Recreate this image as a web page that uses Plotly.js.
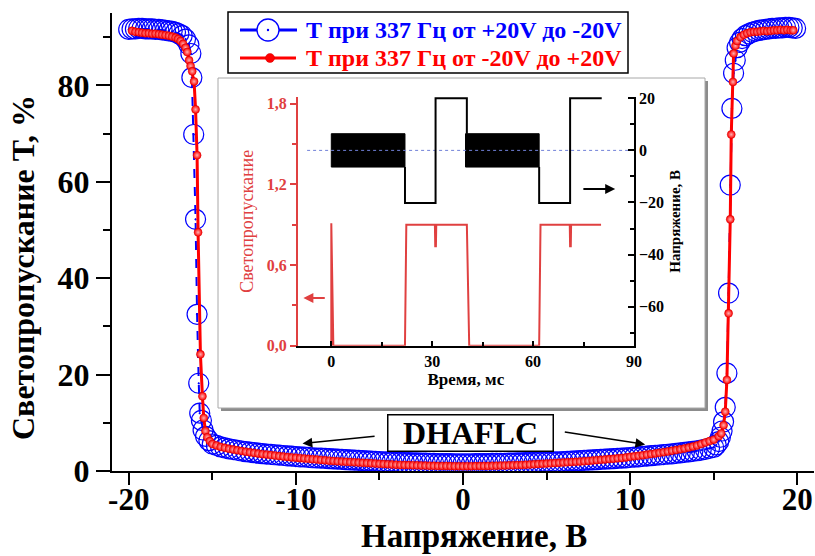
<!DOCTYPE html>
<html><head><meta charset="utf-8">
<script src="https://cdn.plot.ly/plotly-3.0.1.min.js"></script>
<style>body{margin:0;background:#fff}#chart{width:815px;height:556px}</style>
</head><body><div id="chart"></div>
<script>
// ---------- main chart data: T(%) vs voltage (V) ----------
// Blue sweep: from +20 V to -20 V
const blueV = [
  19.9, 19.7, 19.5, 19.3, 19.1, 18.9, 18.7, 18.5, 18.3, 18.1,
  17.9, 17.7, 17.5, 17.3, 17.1, 16.9, 16.7, 16.55, 16.4, 16.29,
  16.19, 16.09, 15.99, 15.89, 15.79, 15.69, 15.59, 15.5, 15.4, 15.3,
  15.15, 15.0,
  14.75, 14.5, 14.25, 14.0, 13.75, 13.5, 13.25, 13.0, 12.75, 12.5,
  12.25, 12.0, 11.75, 11.5, 11.25, 11.0, 10.75, 10.5, 10.25, 10.0,
  9.75, 9.5, 9.25, 9.0, 8.75, 8.5, 8.25, 8.0, 7.75, 7.5,
  7.25, 7.0, 6.75, 6.5, 6.25, 6.0, 5.75, 5.5, 5.25, 5.0,
  4.75, 4.5, 4.25, 4.0, 3.75, 3.5, 3.25, 3.0, 2.75, 2.5,
  2.25, 2.0, 1.75, 1.5, 1.25, 1.0, 0.75, 0.5, 0.25, 0.0,
  -0.25, -0.5, -0.75, -1.0, -1.25, -1.5, -1.75, -2.0, -2.25, -2.5,
  -2.75, -3.0, -3.25, -3.5, -3.75, -4.0, -4.25, -4.5, -4.75, -5.0,
  -5.25, -5.5, -5.75, -6.0, -6.25, -6.5, -6.75, -7.0, -7.25, -7.5,
  -7.75, -8.0, -8.25, -8.5, -8.75, -9.0, -9.25, -9.5, -9.75, -10.0,
  -10.25, -10.5, -10.75, -11.0, -11.25, -11.5, -11.75, -12.0, -12.25, -12.5,
  -12.75, -13.0, -13.25, -13.5, -13.75, -14.0, -14.25, -14.5, -14.75, -15.0,
  -15.2, -15.4, -15.55, -15.65, -15.75, -15.81, -15.91, -16.0, -16.11, -16.22,
  -16.28, -16.4, -16.6, -16.8, -17.0, -17.2, -17.4, -17.6, -17.8, -18.0,
  -18.2, -18.4, -18.6, -18.8, -19.0, -19.2, -19.4, -19.6, -19.8, -20.0];
const blueT = [
  91.8, 91.9, 92.0, 92.0, 91.9, 91.9, 91.8, 91.8, 91.7, 91.6,
  91.5, 91.4, 91.2, 91.0, 90.7, 90.3, 89.7, 88.9, 87.8, 85.2,
  82.5, 75.2, 59.3, 36.9, 20.3, 13.2, 10.2, 8.3, 7.0, 6.1,
  5.4, 4.9,
  4.7, 4.5, 4.35, 4.2, 4.05, 3.95, 3.85, 3.75, 3.65, 3.55,
  3.47, 3.4, 3.32, 3.25, 3.17, 3.1, 3.02, 2.95, 2.87, 2.8,
  2.72, 2.65, 2.6, 2.55, 2.5, 2.45, 2.4, 2.35, 2.3, 2.25,
  2.2, 2.15, 2.1, 2.05, 2.0, 1.95, 1.92, 1.9, 1.87, 1.85,
  1.82, 1.8, 1.77, 1.75, 1.72, 1.7, 1.67, 1.65, 1.62, 1.6,
  1.6, 1.6, 1.57, 1.55, 1.55, 1.55, 1.52, 1.5, 1.5, 1.5,
  1.5, 1.5, 1.52, 1.55, 1.55, 1.55, 1.57, 1.6, 1.62, 1.65,
  1.67, 1.7, 1.72, 1.75, 1.77, 1.8, 1.85, 1.9, 1.92, 1.95,
  2.0, 2.05, 2.1, 2.15, 2.2, 2.25, 2.3, 2.35, 2.4, 2.45,
  2.5, 2.55, 2.6, 2.65, 2.7, 2.75, 2.82, 2.9, 2.95, 3.0,
  3.07, 3.15, 3.22, 3.3, 3.37, 3.45, 3.52, 3.6, 3.7, 3.8,
  3.9, 4.0, 4.15, 4.3, 4.45, 4.6, 4.8, 5.0, 5.3, 5.6,
  6.3, 7.2, 8.5, 10.5, 12.0, 18.2, 32.5, 52.2, 69.8, 81.6,
  86.6, 88.4, 89.6, 90.3, 90.7, 91.0, 91.2, 91.3, 91.4, 91.5,
  91.6, 91.6, 91.7, 91.7, 91.7, 91.8, 91.8, 91.7, 91.7, 91.6];

// Red sweep: from -20 V to +20 V
const redV = [
  -19.8, -19.6, -19.4, -19.2, -19.0, -18.8, -18.6, -18.4, -18.2, -18.0,
  -17.8, -17.6, -17.4, -17.2, -17.05, -16.9, -16.75, -16.6, -16.5, -16.39,
  -16.3, -16.2, -16.09, -16.0, -15.91, -15.85, -15.71, -15.59, -15.51, -15.41,
  -15.3, -15.15, -15.0,
  -14.75, -14.5, -14.25, -14.0, -13.75, -13.5, -13.25, -13.0, -12.75, -12.5,
  -12.25, -12.0, -11.75, -11.5, -11.25, -11.0, -10.75, -10.5, -10.25, -10.0,
  -9.75, -9.5, -9.25, -9.0, -8.75, -8.5, -8.25, -8.0, -7.75, -7.5,
  -7.25, -7.0, -6.75, -6.5, -6.25, -6.0, -5.75, -5.5, -5.25, -5.0,
  -4.75, -4.5, -4.25, -4.0, -3.75, -3.5, -3.25, -3.0, -2.75, -2.5,
  -2.25, -2.0, -1.75, -1.5, -1.25, -1.0, -0.75, -0.5, -0.25, 0.0,
  0.25, 0.5, 0.75, 1.0, 1.25, 1.5, 1.75, 2.0, 2.25, 2.5,
  2.75, 3.0, 3.25, 3.5, 3.75, 4.0, 4.25, 4.5, 4.75, 5.0,
  5.25, 5.5, 5.75, 6.0, 6.25, 6.5, 6.75, 7.0, 7.25, 7.5,
  7.75, 8.0, 8.25, 8.5, 8.75, 9.0, 9.25, 9.5, 9.75, 10.0,
  10.25, 10.5, 10.75, 11.0, 11.25, 11.5, 11.75, 12.0, 12.25, 12.5,
  12.75, 13.0, 13.25, 13.5, 13.75, 14.0, 14.25, 14.5, 14.75,
  15.0, 15.3, 15.45, 15.59, 15.69, 15.79, 15.89, 15.99, 16.05, 16.15,
  16.19, 16.3, 16.4, 16.6, 16.8, 17.0, 17.2, 17.4, 17.6, 17.8,
  18.0, 18.2, 18.4, 18.6, 18.8, 19.0, 19.2, 19.4, 19.6, 19.76];
const redT = [
  91.3, 91.1, 91.0, 90.9, 90.8, 90.8, 90.7, 90.7, 90.6, 90.5,
  90.4, 90.3, 90.1, 89.9, 89.6, 89.2, 88.6, 87.8, 86.9, 85.2,
  84.0, 82.9, 80.8, 75.0, 65.5, 49.5, 24.2, 15.5, 11.0, 8.3,
  7.0, 6.2, 5.6,
  5.3, 5.0, 4.8, 4.6, 4.45, 4.3, 4.15, 4.0, 3.87, 3.75,
  3.62, 3.5, 3.4, 3.3, 3.2, 3.1, 3.0, 2.9, 2.82, 2.75,
  2.67, 2.6, 2.52, 2.45, 2.37, 2.3, 2.22, 2.15, 2.07, 2.0,
  1.95, 1.9, 1.85, 1.8, 1.75, 1.7, 1.65, 1.6, 1.55, 1.5,
  1.45, 1.4, 1.35, 1.3, 1.27, 1.25, 1.22, 1.2, 1.17, 1.15,
  1.12, 1.1, 1.07, 1.05, 1.05, 1.05, 1.02, 1.0, 1.0, 1.0,
  1.0, 1.0, 1.02, 1.05, 1.05, 1.05, 1.07, 1.1, 1.12, 1.15,
  1.17, 1.2, 1.22, 1.25, 1.3, 1.35, 1.4, 1.45, 1.5, 1.55,
  1.6, 1.65, 1.7, 1.75, 1.8, 1.85, 1.9, 1.95, 2.02, 2.1,
  2.17, 2.25, 2.32, 2.4, 2.47, 2.55, 2.62, 2.7, 2.82, 2.95,
  3.05, 3.15, 3.27, 3.4, 3.52, 3.65, 3.77, 3.9, 4.05, 4.2,
  4.35, 4.5, 4.67, 4.85, 5.07, 5.3, 5.6, 5.9, 6.2,
  6.5, 7.2, 7.8, 9.5, 12.3, 18.9, 32.7, 52.2, 69.8, 80.7,
  86.6, 88.2, 89.2, 90.0, 90.5, 90.8, 91.0, 91.1, 91.1, 91.2,
  91.3, 91.2, 91.3, 91.4, 91.4, 91.5, 91.4, 91.5, 91.4, 91.4];

if (blueV.length !== blueT.length) throw new Error('blue length ' + blueV.length + ' vs ' + blueT.length);
if (redV.length !== redT.length) throw new Error('red length ' + redV.length + ' vs ' + redT.length);

const blueName = 'Т при 337 Гц от +20V до -20V';
const redName = 'Т при 337 Гц от -20V до +20V';

const xTicks = [-20, -10, 0, 10, 20];
const xTickText = ['-20', '-10', '0', '10', '20'];
const yTicks = [0, 20, 40, 60, 80];

// ---------- inset data ----------
const insTime = [0, 0, 0.6, 21.9, 22.3, 30.8, 30.9, 31.1, 31.2, 40.3, 41.0, 61.8, 62.2, 70.9, 71.0, 71.2, 71.3, 80.2];
const insTrans = [0, 0.91, 0, 0, 0.9, 0.9, 0.74, 0.74, 0.9, 0.9, 0, 0, 0.9, 0.9, 0.74, 0.74, 0.9, 0.9];
const voltTime = [21.9, 21.9, 31.0, 31.0, 40.3, 40.3, null, 61.8, 61.8, 71.0, 71.0, 80.4];
const voltVal = [-6.4, -20.2, -20.2, 20, 20, 6.4, null, -6.4, -20.2, -20.2, 20, 20];
const band1Time = [0, 21.9, 21.9, 0, 0];
const band2Time = [39.9, 61.8, 61.8, 39.9, 39.9];
const bandVal = [6.4, 6.4, -6.4, -6.4, 6.4];
const zeroTime = [-7.2, 90];
const zeroVal = [0, 0];
const insXTicks = [0, 30, 60, 90];
const insLTicks = [0, 0.6, 1.2, 1.8];
const insLText = ['0,0', '0,6', '1,2', '1,8'];
const insRTicks = [-60, -40, -20, 0, 20];

const FONT = 'Liberation Serif, Times New Roman, serif';
const INS_RED = '#e04040';

const traces = [
  {x: blueV, y: blueT, name: blueName, type: 'scatter', mode: 'lines+markers', showlegend: false,
   line: {color: '#0000ff', width: 2, dash: 'dash'},
   marker: {symbol: 'circle-open-dot', size: 20, color: '#0000ff', line: {width: 1.2, color: '#0000ff'}}},
  {x: redV, y: redT, name: redName, type: 'scatter', mode: 'lines+markers', showlegend: false,
   line: {color: '#ff0000', width: 3},
   marker: {symbol: 'circle', size: 8, color: '#ff0000', gradient: {type: 'radial', color: '#ffb0b0'}, line: {width: 0.5, color: '#d00000'}}},
  {x: band1Time, y: bandVal, xaxis: 'x2', yaxis: 'y3', type: 'scatter', mode: 'lines', fill: 'toself',
   fillcolor: '#000', line: {color: '#000', width: 1}, showlegend: false, hoverinfo: 'skip'},
  {x: band2Time, y: bandVal, xaxis: 'x2', yaxis: 'y3', type: 'scatter', mode: 'lines', fill: 'toself',
   fillcolor: '#000', line: {color: '#000', width: 1}, showlegend: false, hoverinfo: 'skip'},
  {x: zeroTime, y: zeroVal, xaxis: 'x2', yaxis: 'y3', type: 'scatter', mode: 'lines',
   line: {color: '#7080d8', width: 1, dash: 'dot'}, showlegend: false, hoverinfo: 'skip'},
  {x: voltTime, y: voltVal, xaxis: 'x2', yaxis: 'y3', type: 'scatter', mode: 'lines',
   line: {color: '#000', width: 2}, showlegend: false, connectgaps: false},
  {x: insTime, y: insTrans, xaxis: 'x2', yaxis: 'y2', type: 'scatter', mode: 'lines',
   line: {color: INS_RED, width: 2}, showlegend: false}
];

const pw = 702, ph = 458; // plot area size in px (left 112, top 13)
const PX = p => (p - 112) / pw;   // page x pixel -> paper
const PY = p => (471 - p) / ph;   // page y pixel -> paper

const row1 = PY(30), row2 = PY(58);

const layout = {
  width: 815, height: 556,
  margin: {l: 112, r: 1, t: 13, b: 85},
  paper_bgcolor: '#fff', plot_bgcolor: 'rgba(0,0,0,0)',
  font: {family: FONT, color: '#000'},
  showlegend: false,
  xaxis: {range: [-21, 21], tickvals: xTicks, ticktext: xTickText, ticks: 'outside', ticklen: 12, tickwidth: 2, tickcolor: '#000',
    minor: {dtick: 5, ticks: 'outside', ticklen: 7, tickwidth: 2, tickcolor: '#000'},
    showline: true, linewidth: 2, linecolor: '#000', showgrid: false, zeroline: false,
    tickfont: {family: FONT, size: 31, weight: 'bold'}, ticklabelstandoff: -12,
    automargin: false},
  yaxis: {range: [0, 95], tickvals: yTicks, ticks: 'outside', ticklen: 14, tickwidth: 2, tickcolor: '#000',
    minor: {dtick: 10, ticks: 'outside', ticklen: 7, tickwidth: 2, tickcolor: '#000'},
    showline: true, linewidth: 2, linecolor: '#000', showgrid: false, zeroline: false,
    tickfont: {family: FONT, size: 32, weight: 'bold'},
    automargin: false},
  xaxis2: {domain: [0.2645, 0.7436], anchor: 'y2', range: [-10, 90], tickvals: insXTicks,
    ticks: 'inside', ticklen: 5, tickwidth: 1.5, tickcolor: '#000',
    minor: {dtick: 15, ticks: 'inside', ticklen: 4, tickwidth: 1.5, tickcolor: '#000'},
    showline: true, linewidth: 1.5, linecolor: '#000', showgrid: false, zeroline: false,
    tickfont: {family: FONT, size: 16, weight: 'bold', color: '#000'},
    title: {text: 'Время, мс', font: {family: FONT, size: 17, weight: 'bold'}, standoff: 4},
    automargin: false},
  yaxis2: {domain: [0.2736, 0.8166], anchor: 'x2', range: [0, 1.85], tickvals: insLTicks, ticktext: insLText,
    ticks: 'outside', ticklen: 6, tickwidth: 1.5, tickcolor: INS_RED,
    minor: {dtick: 0.3, ticks: 'outside', ticklen: 4, tickwidth: 1.5, tickcolor: INS_RED},
    showline: true, linewidth: 1.5, linecolor: INS_RED, showgrid: false, zeroline: false,
    tickfont: {family: FONT, size: 16, weight: 'bold', color: INS_RED},
    title: {text: 'Светопропускание', font: {family: FONT, size: 18, color: INS_RED}, standoff: 8},
    automargin: false},
  yaxis3: {overlaying: 'y2', anchor: 'x2', side: 'right', range: [-75, 20.5], tickvals: insRTicks,
    ticks: 'inside', ticklen: 6, tickwidth: 1.5, tickcolor: '#000',
    minor: {dtick: 10, ticks: 'inside', ticklen: 4, tickwidth: 1.5, tickcolor: '#000'},
    showline: true, linewidth: 1.5, linecolor: '#000', showgrid: false, zeroline: false,
    tickfont: {family: FONT, size: 16, weight: 'bold', color: '#000'},
    title: {text: 'Напряжение, В', font: {family: FONT, size: 15, weight: 'bold'}, standoff: 6},
    automargin: false},
  shapes: [
    // inset frame with shadow
    {type: 'rect', xref: 'paper', yref: 'paper', layer: 'below',
     x0: PX(221), x1: PX(708), y0: PY(411), y1: PY(81), fillcolor: '#8c8c8c', line: {width: 0}},
    {type: 'rect', xref: 'paper', yref: 'paper', layer: 'below',
     x0: PX(218), x1: PX(705), y0: PY(408), y1: PY(78), fillcolor: '#fff', line: {color: '#a8a8a8', width: 1}},
    // legend box
    {type: 'rect', xref: 'paper', yref: 'paper', layer: 'above',
     x0: PX(228), x1: PX(628), y0: PY(73), y1: PY(12), fillcolor: '#fff', line: {color: '#000', width: 1.5}},
    // legend samples
    {type: 'line', xref: 'paper', yref: 'paper', layer: 'above',
     x0: PX(240), x1: PX(297), y0: row1, y1: row1, line: {color: '#0000ff', width: 3}},
    {type: 'circle', xref: 'paper', yref: 'paper', layer: 'above',
     xsizemode: 'pixel', ysizemode: 'pixel', xanchor: PX(268), yanchor: row1,
     x0: -11, x1: 11, y0: -11, y1: 11, fillcolor: '#fff', line: {color: '#0000ff', width: 1.3}},
    {type: 'circle', xref: 'paper', yref: 'paper', layer: 'above',
     xsizemode: 'pixel', ysizemode: 'pixel', xanchor: PX(268), yanchor: row1,
     x0: -1.2, x1: 1.2, y0: -1.2, y1: 1.2, fillcolor: '#0000ff', line: {width: 0}},
    {type: 'line', xref: 'paper', yref: 'paper', layer: 'above',
     x0: PX(240), x1: PX(296), y0: row2, y1: row2, line: {color: '#ff0000', width: 3}},
    {type: 'circle', xref: 'paper', yref: 'paper', layer: 'above',
     xsizemode: 'pixel', ysizemode: 'pixel', xanchor: PX(270), yanchor: row2,
     x0: -4.5, x1: 4.5, y0: -4.5, y1: 4.5, fillcolor: '#ff0000', line: {color: '#d00000', width: 0.5}}
  ],
  annotations: [
    // main axis titles
    {x: PX(474), y: PY(536), xref: 'paper', yref: 'paper', xanchor: 'center', yanchor: 'middle',
     text: 'Напряжение, В', showarrow: false, font: {family: FONT, size: 33, weight: 'bold', color: '#000'}},
    {x: PX(23), y: PY(268), xref: 'paper', yref: 'paper', xanchor: 'center', yanchor: 'middle', textangle: -90,
     text: 'Светопропускание Т, %', showarrow: false, font: {family: FONT, size: 32, weight: 'bold', color: '#000'}},
    // legend texts
    {x: PX(304), y: row1, xref: 'paper', yref: 'paper', xanchor: 'left', yanchor: 'middle', showarrow: false,
     text: blueName, font: {family: FONT, size: 24, weight: 'bold', color: '#0000ff'}},
    {x: PX(304), y: row2, xref: 'paper', yref: 'paper', xanchor: 'left', yanchor: 'middle', showarrow: false,
     text: redName, font: {family: FONT, size: 24, weight: 'bold', color: '#ff0000'}},
    // DHAFLC label and arrows
    {x: 0.45, y: 7.8, xref: 'x', yref: 'y', text: 'DHAFLC', showarrow: false,
     font: {family: FONT, size: 32, weight: 'bold', color: '#000'},
     bordercolor: '#000', borderwidth: 1.5, bgcolor: '#fff', width: 162, height: 33, borderpad: 1},
    {x: -9.6, y: 5.7, ax: -5.2, ay: 7.25, xref: 'x', yref: 'y', axref: 'x', ayref: 'y', text: '',
     showarrow: true, arrowhead: 2, arrowsize: 1.3, arrowwidth: 1.5, arrowcolor: '#000'},
    {x: 10.9, y: 5.5, ax: 6.0, ay: 8.15, xref: 'x', yref: 'y', axref: 'x', ayref: 'y', text: '',
     showarrow: true, arrowhead: 2, arrowsize: 1.3, arrowwidth: 1.5, arrowcolor: '#000'},
    // inset arrows
    {x: 84.4, y: -14.8, ax: 74.5, ay: -14.8, xref: 'x2', yref: 'y3', axref: 'x2', ayref: 'y3', text: '',
     showarrow: true, arrowhead: 2, arrowsize: 1, arrowwidth: 2, arrowcolor: '#000'},
    {x: -8.3, y: 0.355, ax: -1.5, ay: 0.355, xref: 'x2', yref: 'y2', axref: 'x2', ayref: 'y2', text: '',
     showarrow: true, arrowhead: 2, arrowsize: 1, arrowwidth: 2, arrowcolor: INS_RED}
  ]
};

Plotly.newPlot('chart', traces, layout, {displayModeBar: false, responsive: false});
</script></body></html>
